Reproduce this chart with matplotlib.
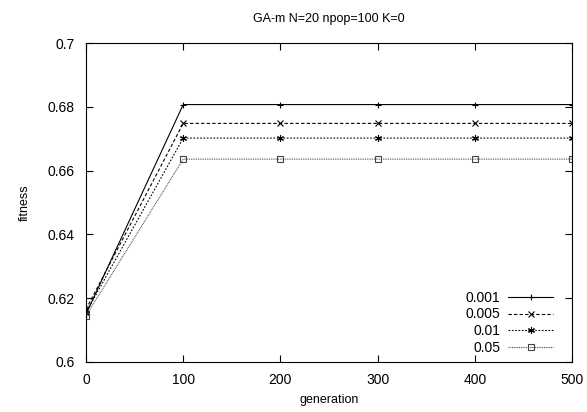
#!/usr/bin/env python3
import matplotlib
matplotlib.use('Agg')
import matplotlib.pyplot as plt

generation = [0, 100, 200, 300, 400, 500]
labels = ['0.001', '0.005', '0.01', '0.05']
fit_001 = [0.6150, 0.6807, 0.6807, 0.6807, 0.6807, 0.6807]
fit_005 = [0.6165, 0.6748, 0.6748, 0.6748, 0.6748, 0.6748]
fit_01 = [0.6155, 0.6702, 0.6702, 0.6702, 0.6702, 0.6702]
fit_05 = [0.6145, 0.6636, 0.6636, 0.6636, 0.6636, 0.6636]


def main():
    plt.rcParams['font.family'] = ['Liberation Sans', 'DejaVu Sans']
    fig = plt.figure(figsize=(5.87, 4.12), dpi=100)
    ax = fig.add_axes([0.1465, 0.1214, 0.828, 0.7742])

    series = [fit_001, fit_005, fit_01, fit_05]
    styles = [
        dict(linestyle='-', marker='+', markersize=5, color='black'),
        dict(linestyle=(0, (3, 2)), marker='x', markersize=4, color='black'),
        dict(linestyle=(0, (1.5, 1.5)), marker=(6, 2, 0), markersize=5, color='black'),
        dict(linestyle=(0, (0.8, 0.8)), marker='s', markersize=4,
             markerfacecolor='none', color='#444444'),
    ]
    for vals, lab, st in zip(series, labels, styles):
        ax.plot(generation, vals, label=lab, linewidth=0.8, markeredgewidth=0.8, **st)

    ax.set_xlim(0, 500)
    ax.set_ylim(0.6, 0.7)
    ax.set_xticks([0, 100, 200, 300, 400, 500])
    ax.set_yticks([0.6, 0.62, 0.64, 0.66, 0.68, 0.7])
    ax.set_yticklabels(['0.6', '0.62', '0.64', '0.66', '0.68', '0.7'])
    ax.tick_params(direction='in', top=True, right=True, length=5, labelsize=10, pad=8)
    for sp in ax.spines.values():
        sp.set_linewidth(0.8)
    ax.set_xlabel('generation', fontsize=9, labelpad=5)
    ax.set_ylabel('fitness', fontsize=9, labelpad=12)
    ax.set_title('GA-m N=20 npop=100 K=0', fontsize=9, pad=15)

    ax.legend(loc='lower right', frameon=False, markerfirst=False, fontsize=10,
              handlelength=3.2, handletextpad=0.6, labelspacing=0.2,
              borderaxespad=0.1, bbox_to_anchor=(0.975, 0.0))

    fig.savefig('out.png', dpi=100)


if __name__ == '__main__':
    main()
